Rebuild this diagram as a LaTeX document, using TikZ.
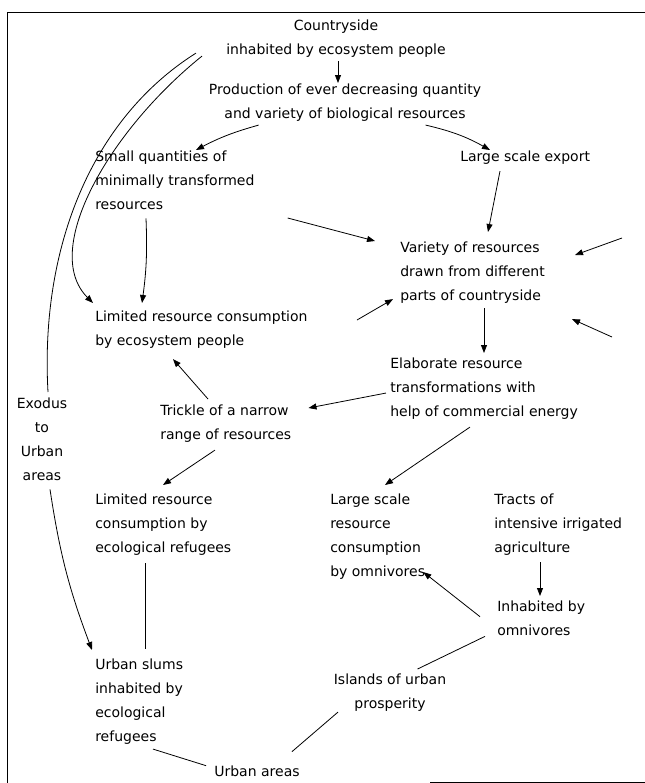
\documentclass[tikz,border=0pt]{standalone}
\usepackage{fontspec}
\setmainfont{DejaVu Sans}
\usetikzlibrary{arrows.meta, calc}

\begin{document}
\begin{tikzpicture}[
    x=0.75pt, y=-0.75pt,
    every node/.style={font=\fontsize{10.5}{18}\selectfont, inner sep=0pt},
    txt/.style={anchor=north west, align=left},
    ctxt/.style={anchor=north, align=center},
    arr/.style={-{Triangle[length=6pt,width=4.5pt]}, line width=0.6pt},
    link/.style={line width=0.6pt}
]
\useasboundingbox (0,0) rectangle (645,783);

% Rahmen
\draw[link] (645,12) -- (7,12) -- (7,783);
\draw[link] (430,782) -- (645,782);

% Knoten
\node[ctxt] (country) at (336,20) {Countryside\\inhabited by ecosystem people};
\node[ctxt] (prod) at (345,84) {Production of ever decreasing quantity\\and variety of biological resources};
\node[txt] (small) at (95,151) {Small quantities of\\minimally transformed\\resources};
\node[txt] (export) at (460,151) {Large scale export};
\node[txt] (variety) at (400,242) {Variety of resources\\drawn from different\\parts of countryside};
\node[txt] (limeco) at (95,311) {Limited resource consumption\\by ecosystem people};
\node[txt] (elab) at (390,358) {Elaborate resource\\transformations with\\help of commercial energy};
\node[ctxt] (exodus) at (42,398) {Exodus\\to\\Urban\\areas};
\node[txt] (trickle) at (160,405) {Trickle of a narrow\\range of resources};
\node[txt] (limref) at (95,494) {Limited resource\\consumption by\\ecological refugees};
\node[txt] (largecons) at (330,494) {Large scale\\resource\\consumption\\by omnivores};
\node[txt] (tracts) at (494,494) {Tracts of\\intensive irrigated\\agriculture};
\node[txt] (inhab) at (497,601) {Inhabited by\\omnivores};
\node[txt] (slums) at (95,659) {Urban slums\\inhabited by\\ecological\\refugees};
\node[ctxt] (islands) at (390,674) {Islands of urban\\prosperity};
\node[ctxt] (urban) at (257,766) {Urban areas};

% freie Enden
\coordinate (inA) at (622,238);
\coordinate (inB) at (612,337);
\coordinate (inC) at (357,320);

% Verbindungen
\draw[arr] ($(country.south)+(2,3)$) -- ($(prod.north)+(-7,-1)$);
\draw[arr] ($(prod.south west)+(50,3)$) to[bend right=6] ($(small.north west)+(101,-1)$);
\draw[arr] ($(prod.south west)+(217,3)$) to[bend left=8] ($(export.north west)+(30,-1)$);
\draw[arr] ($(export.south west)+(40,6)$) -- ($(variety.north west)+(88,-10)$);
\draw[arr] ($(small.north east)+(33,67)$) -- ($(variety.north west)+(-25,-1)$);
\draw[arr] ($(small.south west)+(51,8)$) to[bend left=5] ($(limeco.north west)+(47,-8)$);
\draw[arr] (inA) -- ($(variety.north east)+(30,13)$);
\draw[arr] (inB) -- ($(variety.south east)+(27,15)$);
\draw[arr] (inC) -- ($(variety.south west)+(-7,-5)$);
\draw[arr] ($(variety.south west)+(84,4)$) -- ($(elab.north west)+(94,-5)$);
\draw[arr] ($(elab.west)+(-4,4)$) -- ($(trickle.north east)+(17,3)$);
\draw[arr] ($(trickle.north west)+(48,-6)$) -- ($(limeco.south west)+(78,10)$);
\draw[arr] ($(elab.south west)+(80,7)$) -- ($(largecons.north west)+(55,-9)$);
\draw[arr] ($(trickle.south west)+(55,7)$) -- ($(limref.north west)+(68,-9)$);
\draw[link] ($(limref.south west)+(50,7)$) -- ($(slums.north west)+(50,-10)$);
\draw[arr] ($(tracts.south west)+(46,6)$) -- ($(inhab.north west)+(43,-5)$);
\draw[arr] ($(inhab.west)+(-17,-2)$) -- ($(largecons.south east)+(-2,-8)$);
\draw[link] ($(inhab.south west)+(-12,0)$) -- ($(islands.north west)+(84,-5)$);
\draw[link] ($(slums.south west)+(58,4)$) -- ($(urban.west)+(-8,-6)$);
\draw[link] ($(islands.south)+(-52,0)$) -- ($(urban.east)+(-8,-20)$);

% lange Boegen links
\draw[link] ($(country.south west)+(-30,-5)$) .. controls (90,120) and (40,250) .. ($(exodus.north)+(6,-6)$);
\draw[arr] ($(country.south west)+(-24,-2)$) .. controls (110,130) and (40,250) .. ($(limeco.north west)+(-2,-8)$);
\draw[arr] ($(exodus.south)+(8,8)$) to[bend right=6] ($(slums.north west)+(-3,-9)$);

\end{tikzpicture}
\end{document}
